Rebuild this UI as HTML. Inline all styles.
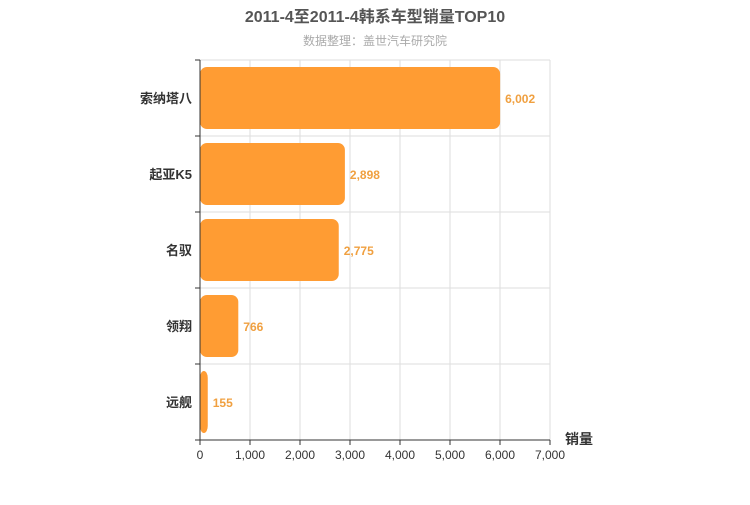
<!DOCTYPE html>
<html><head><meta charset="utf-8"><style>
body{margin:0;background:#fff;}
svg text{font-family:"Liberation Sans","Noto Sans CJK SC",sans-serif;}
</style></head><body>
<svg width="750" height="500" id="c">
<text x="375" y="22" text-anchor="middle" font-size="16" font-weight="bold" fill="#555">2011-4至2011-4韩系车型销量TOP10</text>
<text x="375" y="45" text-anchor="middle" font-size="12" fill="#aaa">数据整理：盖世汽车研究院</text>
<text x="565" y="444" font-size="14" font-weight="bold" fill="#333">销量</text>
<g id="grid"></g><g id="bars"></g><g id="axes"></g>
</svg>
<script>
const categories=["索纳塔八","起亚K5","名驭","领翔","远舰"];
const values=[6002,2898,2775,766,155];
const xTicks=[0,1000,2000,3000,4000,5000,6000,7000];
const NS="http://www.w3.org/2000/svg";
const x0=200,x1=550,y0=60,y1=440,xMax=7000;
const band=(y1-y0)/categories.length;
const xs=v=>x0+v/xMax*(x1-x0);
function mk(t,a,p){const e=document.createElementNS(NS,t);for(const k in a)e.setAttribute(k,a[k]);p.appendChild(e);return e;}
const g=document.getElementById('grid'),b=document.getElementById('bars'),ax=document.getElementById('axes');
xTicks.forEach(t=>{
 const l=mk('line',{x1:xs(t),x2:xs(t),y1:y0,y2:y1,stroke:'#ddd'},g);
 
 
 const tk=mk('line',{x1:xs(t),x2:xs(t),y1:y1,y2:y1+5,stroke:'#333'},ax);
 
 
 const tx=mk('text',{x:xs(t),y:y1+19,'text-anchor':'middle','font-size':12,fill:'#333'},ax);
 tx.textContent=t.toLocaleString('en-US');
 
 
});
for(let i=0;i<=categories.length;i++){
 const y=y0+i*band;
 const l=mk('line',{x1:x0,x2:x1,y1:y,y2:y,stroke:'#ddd'},g);
 
 
 const tk=mk('line',{x1:x0-5,x2:x0,y1:y,y2:y,stroke:'#333'},ax);
 
 
}
const ya=mk('line',{x1:x0,x2:x0,y1:y0,y2:y1,stroke:'#333'},ax);


const xa=mk('line',{x1:x0,x2:x1,y1:y1,y2:y1,stroke:'#333'},ax);


categories.forEach((c,i)=>{
 const yc=y0+band*(i+0.5);
 const r=mk('rect',{x:x0,y:yc-31,width:xs(values[i])-x0,height:62,rx:7,ry:7,fill:'#ff9c33'},b);
 
 
 const v=mk('text',{x:xs(values[i])+5,y:yc+5,'font-size':12,'font-weight':'bold',fill:'#f0a040'},b);
 v.textContent=values[i].toLocaleString('en-US');
 
 
 const l=mk('text',{x:x0-8,y:yc+5,'text-anchor':'end','font-size':13,'font-weight':'bold',fill:'#333'},ax);
 l.textContent=c;
 
 
});
</script>
</body></html>
